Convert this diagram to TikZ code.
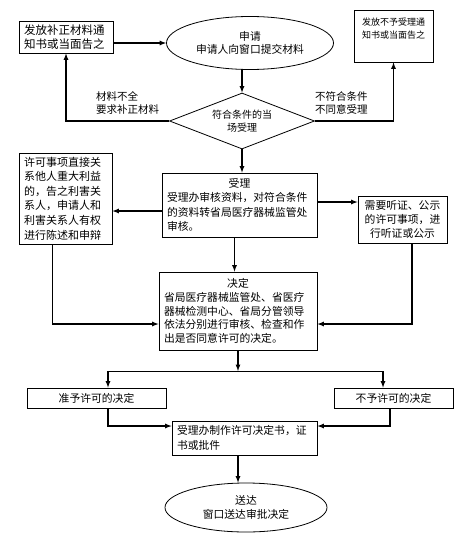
\documentclass[tikz,border=0pt]{standalone}
\usepackage{fontspec}
\setmainfont{Noto Sans CJK SC}
\usetikzlibrary{shapes.geometric}

\begin{document}
\begin{tikzpicture}[x=1pt, y=-1pt,
        box/.style={draw, line width=0.8pt, rectangle, inner xsep=5pt, inner ysep=2pt, align=left, font=\fontsize{10.8}{14.3}\selectfont},
        oval/.style={draw, line width=0.8pt, ellipse, inner sep=0pt, align=center, font=\fontsize{10.8}{13.5}\selectfont},
        wire/.style={line width=1pt},
        arr/.style={line width=1.2pt, -latex},
        lbl/.style={inner sep=0pt, align=left, font=\fontsize{10.5}{13}\selectfont}]
        	\useasboundingbox (0,0) rectangle (462,535);
        	% Boxes, labels and wires:
        	\node[box, minimum width=94pt, minimum height=32pt, text width=84pt, font=\fontsize{11.5}{14}\selectfont] (N1) at (66,37) {发放补正材料通\\知书或当面告之};
        	\node[oval, minimum width=167pt, minimum height=53pt] (N2) at (250,43) {申请\\申请人向窗口提交材料};
        	\node[box, minimum width=79pt, minimum height=52pt] (N3) at (393.5,36) {};
        	\node[lbl, align=center, anchor=north, font=\fontsize{9}{13}\selectfont] (T3) at ([yshift=-8pt]N3.north) {发放不予受理通\\知书或当面告之};
        	\node[draw, line width=0.8pt, diamond, aspect=2.6, minimum width=145pt, minimum height=56pt, inner sep=0pt, align=center, font=\fontsize{10}{12.5}\selectfont] (N4) at (242,121) {符合条件的当\\场受理};
        	\node[lbl, anchor=west] (L1) at (96,103) {材料不全\\要求补正材料};
        	\node[lbl, anchor=west] (L2) at (315,103) {不符合条件\\不同意受理};
        	\node[box, minimum width=155pt, minimum height=64pt, text width=145pt] (N5) at (239.5,205) {\makebox[145pt]{受理}\\受理办审核资料，对符合条件\\的资料转省局医疗器械监管处\\审核。};
        	\node[box, minimum width=93pt, minimum height=91pt, text width=83pt, font=\fontsize{11}{14.6}\selectfont] (N6) at (65.5,198.5) {许可事项直接关\\系他人重大利益\\的，告之利害关\\系人，申请人和\\利害关系人有权\\进行陈述和申辩};
        	\node[box, align=center, minimum width=89pt, minimum height=47pt, text width=79pt, font=\fontsize{10.8}{14}\selectfont] (N7) at (402.5,219.5) {需要听证、公示\\的许可事项，进\\行听证或公示};
        	\node[box, minimum width=158pt, minimum height=78pt, text width=148pt, font=\fontsize{10.8}{13.8}\selectfont] (N8) at (238,311) {\makebox[148pt]{决定}\\省局医疗器械监管处、省医疗\\器械检测中心、省局分管领导\\依法分别进行审核、检查和作\\出是否同意许可的决定。};
        	\node[box, align=center, minimum width=139pt, minimum height=20pt, text width=129pt] (N9) at (96.5,398) {准予许可的决定};
        	\node[box, align=center, minimum width=119pt, minimum height=20pt, text width=109pt] (N10) at (393.5,398) {不予许可的决定};
        	\node[box, minimum width=145pt, minimum height=34pt, text width=135pt] (N11) at (244.5,438) {受理办制作许可决定书，证\\书或批件};
        	\node[oval, minimum width=162pt, minimum height=49pt] (N12) at (246,507.5) {送达\\窗口送达审批决定};
        	\coordinate (J) at (238,371);
        	\coordinate (JL) at (108,371);
        	\coordinate (JR) at (383,371);
        	\draw[arr] (N1.east |- N2.west) -- (N2.west);
        	\draw[arr] (N4.north |- N2.south) -- (N4.north);
        	\draw[arr] (N4.west) -| (N1.south);
        	\draw[arr] (N4.east) -| (N3.south);
        	\draw[arr] (N4.south) -- (N4.south |- N5.north);
        	\draw[arr] ([yshift=-6pt]N5.west) -- ([yshift=-6pt]N5.west -| N6.east);
        	\draw[arr] ([yshift=3pt]N5.east) -- ([yshift=3pt]N5.east -| N7.west);
        	\draw[arr] ([xshift=-5pt]N5.south) -- ([xshift=-5pt]N5.south |- N8.north);
        	\draw[arr] ([xshift=-13pt]N6.south) |- ([yshift=-13pt]N8.west);
        	\draw[arr] ([xshift=9.5pt]N7.south) |- ([yshift=-13pt]N8.east);
        	\draw[arr] (N8.south) -- (J);
        	\draw[wire] (JL) -- (JR);
        	\draw[arr] (JL) -- (JL |- N9.north);
        	\draw[arr] (JR) -- (JR |- N10.north);
        	\draw[arr] (JL |- N9.south) |- ([yshift=12pt]N11.west);
        	\draw[arr] ([xshift=-3.5pt]N10.south) |- ([yshift=12pt]N11.east);
        	\draw[arr] (N8.south |- N11.south) -- (N8.south |- N12.north);
        \end{tikzpicture}
\end{document}
